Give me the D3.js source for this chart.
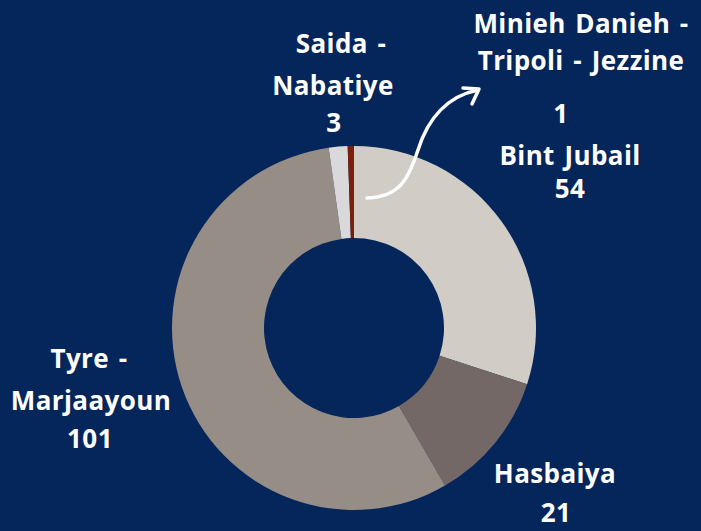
<!DOCTYPE html>
<html>
<head>
<meta charset="utf-8">
<script src="https://cdn.jsdelivr.net/npm/d3@7"></script>
<style>
  html, body { margin: 0; padding: 0; background: #05265a; }
  svg { display: block; }
  text { font-family: "Open Sans", sans-serif; font-weight: 700; fill: #fff; }
</style>
</head>
<body>
<div id="chart"></div>
<script>
// data, clockwise from 12 o'clock
const regions = ["Bint Jubail", "Hasbaiya", "Tyre - Marjaayoun", "Saida - Nabatiye", "Minieh Danieh - Tripoli - Jezzine"];
const counts = [54, 21, 101, 3, 1];
const colors = ["#d2ccc6", "#736866", "#958d86", "#d9d9db", "#7a1f0a"];

// label lines (text) for each region
const labelLines = [
    ["Bint Jubail", "54"],
    ["Hasbaiya", "21"],
    ["Tyre -", "Marjaayoun", "101"],
    ["Saida -", "Nabatiye", "3"],
    ["Minieh Danieh -", "Tripoli - Jezzine", "1"]
];

// layout
const width = 701, height = 531;
const cx = 354, cy = 328;
const outerR = 182, innerR = 90;
const labelPos = [
    [[570, 165], [570, 198]],
    [[555, 483], [556, 522]],
    [[89, 368], [91, 410], [90, 448]],
    [[341, 53], [333, 95], [334, 132]],
    [[581, 33], [581, 70], [561, 123]]
];

function setup() {
    const svg = d3.select("#chart").append("svg")
        .attr("width", width)
        .attr("height", height);

    svg.append("rect")
        .attr("width", width)
        .attr("height", height)
        .attr("fill", "#05265a");

    const pie = d3.pie().sort(null).value(d => d)(counts);
    const arc = d3.arc().innerRadius(innerR).outerRadius(outerR);

    const g = svg.append("g")
        .attr("transform", "translate(" + cx + "," + cy + ")");

    g.selectAll("path")
        .data(pie)
        .enter()
        .append("path")
        .attr("d", arc)
        .attr("fill", (d, i) => colors[i]);

    // labels
    labelLines.forEach((lines, i) => {
        lines.forEach((t, j) => {
            svg.append("text")
                .attr("x", labelPos[i][j][0])
                .attr("y", labelPos[i][j][1])
                .attr("text-anchor", "middle")
                .style("font-size", "26px")
                .style("letter-spacing", "0.4px")
                .style("word-spacing", "2.5px")
                .text(t);
        });
    });

    // curved arrow pointing from the small slice to its label
    svg.append("path")
        .attr("d", "M367,198 C400,197 409,178 418,150 C428,118 448,96 478,90")
        .attr("fill", "none")
        .attr("stroke", "#fff")
        .attr("stroke-width", 3.5)
        .attr("stroke-linecap", "round");
    svg.append("path")
        .attr("d", "M463,88 L479,89 L472,104")
        .attr("fill", "none")
        .attr("stroke", "#fff")
        .attr("stroke-width", 3.5)
        .attr("stroke-linecap", "round")
        .attr("stroke-linejoin", "round");
}

setup();
</script>
</body>
</html>
